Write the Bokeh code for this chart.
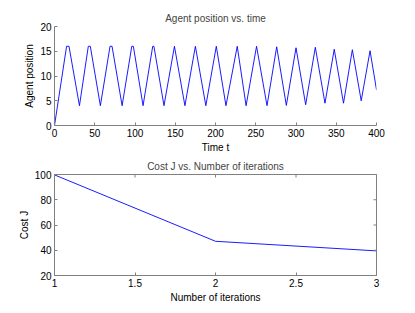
import numpy as np
from bokeh.plotting import figure
from bokeh.layouts import column
from bokeh.models import FixedTicker, Range1d
from bokeh.embed import file_html
from bokeh.resources import INLINE

# Top: agent position vs time (vertices of the piecewise-linear trace)
time_t = [0, 15, 18, 31, 42, 44.5, 57, 69, 71.5, 84, 96, 98, 110, 122, 123.5, 136,
          149, 162, 175, 188, 201, 213, 227, 238, 251, 264, 276, 288, 300, 312,
          324, 336, 347.5, 359, 370, 381, 392, 400]
agent_pos = [0, 16, 16, 4, 16, 16, 4, 16, 16, 4, 16, 16, 4, 16, 16, 4,
             16, 4, 16, 4, 16, 4, 16, 4, 16, 4, 15.9, 4.05, 15.7, 4.2,
             15.8, 4.5, 15.4, 4.5, 15.3, 5.0, 15.1, 7.2]
top_xticks = [0, 50, 100, 150, 200, 250, 300, 350, 400]
top_yticks = [0, 5, 10, 15, 20]

# Bottom: cost J vs number of iterations
iterations = [1, 2, 3]
cost_j = [99.7, 47.1, 39.5]
bot_xticks = [1, 1.5, 2, 2.5, 3]
bot_yticks = [20, 40, 60, 80, 100]

FONT = "Liberation Sans"
AX = "#808080"
FS = "10px"


def style_axis(ax, ticks):
    ax.ticker = FixedTicker(ticks=ticks)
    ax.axis_line_color = AX
    ax.major_tick_line_color = AX
    ax.major_tick_in = 3
    ax.major_tick_out = 0
    ax.minor_tick_line_color = None
    ax.major_label_text_font = FONT
    ax.major_label_text_font_size = FS
    ax.major_label_text_color = "#000000"
    ax.major_label_standoff = 3
    ax.axis_label_text_font = FONT
    ax.axis_label_text_font_size = FS
    ax.axis_label_text_font_style = "normal"
    ax.axis_label_text_color = "#000000"
    ax.axis_label_standoff = 2


def make_fig(title, height, bt, bb):
    p = figure(width=407, height=height, output_backend="svg", toolbar_location=None,
               min_border_left=54, min_border_right=31, min_border_top=bt,
               min_border_bottom=bb, title=title)
    p.title.text_font = FONT
    p.title.text_font_size = FS
    p.title.text_font_style = "normal"
    p.title.align = "center"
    p.title.standoff = 5
    p.grid.visible = False
    p.background_fill_color = "white"
    p.border_fill_color = "white"
    return p


p1 = make_fig("Agent position vs. time", 155, 26, 26)
p1.x_range = Range1d(0, 400)
p1.y_range = Range1d(0, 20)
p1.outline_line_color = None
p1.line(time_t, agent_pos, line_color="#0000ff", line_width=0.9)
style_axis(p1.xaxis[0], top_xticks)
style_axis(p1.yaxis[0], top_yticks)
p1.xaxis.axis_label = "Time t"
p1.yaxis.axis_label = "Agent position"

p2 = make_fig("Cost J vs. Number of iterations", 150, 19, 28)
p2.x_range = Range1d(1, 3)
p2.y_range = Range1d(20, 100)
p2.outline_line_color = AX
p2.line(iterations, cost_j, line_color="#0000ff", line_width=0.9)
style_axis(p2.xaxis[0], bot_xticks)
style_axis(p2.yaxis[0], bot_yticks)
p2.xaxis.axis_label = "Number of iterations"
p2.yaxis.axis_label = "Cost J"
# mirrored inward ticks on the top and right edges of the box
p2.scatter(bot_xticks, [bot_yticks[-1]] * len(bot_xticks), marker="dash",
           angle=np.pi / 2, size=6, line_color=AX, line_width=1)
p2.scatter([bot_xticks[-1]] * len(bot_yticks), bot_yticks, marker="dash",
           size=6, line_color=AX, line_width=1)

layout = column(p1, p2, spacing=0)
open("out.html", "w").write(file_html(layout, INLINE))
